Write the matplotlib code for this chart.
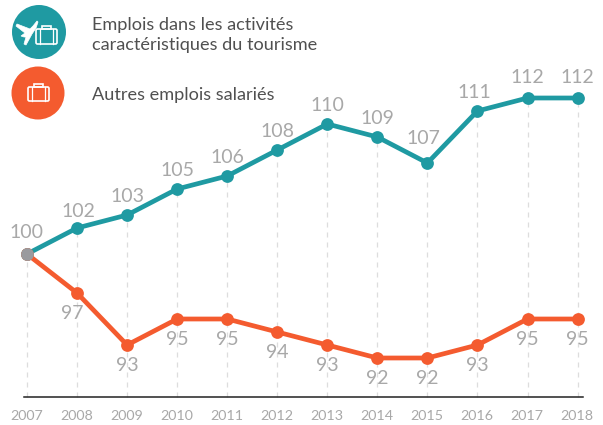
#!/usr/bin/env python3
"""Emplois salaries: tourisme vs autres, base 100 en 2007"""

import matplotlib
matplotlib.use('Agg')
import matplotlib.pyplot as plt
from matplotlib.patches import Circle, Polygon, Rectangle, FancyBboxPatch

years = [2007, 2008, 2009, 2010, 2011, 2012, 2013, 2014, 2015, 2016, 2017, 2018]
tourisme = [100, 102, 103, 105, 106, 108, 110, 109, 107, 111, 112, 112]
autres = [100, 97, 93, 95, 95, 94, 93, 92, 92, 93, 95, 95]

legend_tourisme = 'Emplois dans les activités\ncaractéristiques du tourisme'
legend_autres = 'Autres emplois salariés'

TEAL = '#1f9aa2'
ORANGE = '#f45b2f'
GREY = '#a8a8a8'
TEXT = '#505050'
FONT = 'Lato'

W, H = 603, 425
fig = plt.figure(figsize=(W / 100, H / 100), dpi=100)

# data axes fill the figure, limits tuned so 2007/100 lands on the picture's origin point
ax = fig.add_axes([0, 0, 1, 1])
ax.set_xlim(2007 - 27 / 50.05, 2007 + (W - 27) / 50.05)
ax.set_ylim(100 - (H - 254) / 13, 100 + 254 / 13)
ax.axis('off')
BASE = 100 - (397.5 - 254) / 13

# dashed drop lines
ax.vlines(years, BASE, tourisme, color='#dddddd', lw=0.9, linestyle=(0, (4, 4)), zorder=1)
ax.plot([2007 - 3 / 50.05, 2018 + 5.5 / 50.05], [BASE, BASE], color='#222222', lw=1.1, zorder=2)

ax.plot(years, tourisme, color=TEAL, lw=3.4, marker='o', ms=9.2, mec='none', zorder=3)
ax.plot(years, autres, color=ORANGE, lw=3.4, marker='o', ms=9.2, mec='none', zorder=4)
ax.plot(years[0], tourisme[0], 'o', color='#9a9a9e', ms=9.2, mec='none', zorder=5)

# label offsets in px, only the ones that differ from the default
top_dx = {2007: -1, 2008: 1, 2015: -4, 2016: -3, 2017: 0}
top_dy = {2007: 15.5, 2008: 12, 2009: 13.5, 2015: 18, 2017: 15, 2018: 15}
bottom_dx = {2008: -5}
for y, t, a in zip(years, tourisme, autres):
    ax.annotate(str(t), (y, t), xytext=(top_dx.get(y, 0) * 0.72, top_dy.get(y, 13)),
                textcoords='offset points', ha='center', va='center', color=GREY,
                fontsize=14, family=FONT)
    if y > 2007:
        ax.annotate(str(a), (y, a), xytext=(bottom_dx.get(y, 0) * 0.72, -15), textcoords='offset points',
                    ha='center', va='center', color=GREY, fontsize=14, family=FONT)
    ax.annotate(str(y), (y, BASE), xytext=(-0.5, -13.5), textcoords='offset points',
                ha='center', va='center', color=GREY, fontsize=10.3, family=FONT)

# overlay in pixel coordinates for the legend and its icons
ov = fig.add_axes([0, 0, 1, 1])
ov.set_xlim(0, W)
ov.set_ylim(H, 0)
ov.axis('off')
ov.patch.set_alpha(0)
ov.add_patch(Circle((39, 32), 27, color=TEAL, lw=0))
ov.add_patch(Circle((38, 93), 26.5, color=ORANGE, lw=0))


def briefcase(x, y, w, h):
    ov.add_patch(FancyBboxPatch((x, y), w, h, boxstyle='round,pad=0,rounding_size=1.5',
                                fc='none', ec='white', lw=1.2))
    ov.add_patch(Rectangle((x + w * 0.3, y - 3), w * 0.4, 3, fc='none', ec='white', lw=1.2))
    ov.plot([x + 4, x + 4], [y, y + h], color='white', lw=0.9)
    ov.plot([x + w - 4, x + w - 4], [y, y + h], color='white', lw=0.9)


briefcase(36, 29, 21, 15)
briefcase(28, 87, 21, 14)

# plane
ov.add_patch(Polygon([(37, 21), (33, 26), (30, 29), (17, 24), (16, 26), (25, 33), (21, 36),
                      (24, 37), (26, 37), (24, 44), (26, 45), (32, 34), (36, 28), (38, 22)],
                     closed=True, fc='white', ec='white', lw=0.5))

ov.text(92, 35, legend_tourisme, ha='left', va='center', color=TEXT, fontsize=13.1,
        family=FONT, linespacing=1.32)
ov.text(92, 95, legend_autres, ha='left', va='center', color=TEXT, fontsize=13.1, family=FONT)

fig.savefig('out.png', dpi=100)
plt.close()
